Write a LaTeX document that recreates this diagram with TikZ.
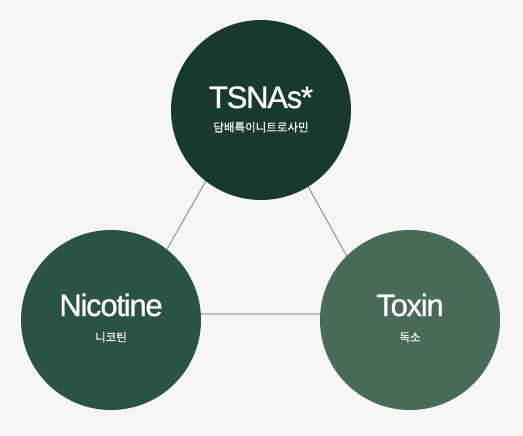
\documentclass[tikz,border=0pt]{standalone}
\usepackage{fontspec}
\setmainfont{Liberation Sans}
\newfontfamily\titlefont{Liberation Sans}[LetterSpace=-4,FakeBold=0.8]
\newfontfamily\krfont{Noto Sans CJK KR}[FakeBold=0.6]
\usepackage{xcolor}
\usepackage{tikz}
\usetikzlibrary{positioning}
\definecolor{pagebg}{HTML}{F6F6F6}
\definecolor{tsnagreen}{HTML}{183B29}
\definecolor{nicogreen}{HTML}{2B5440}
\definecolor{toxgreen}{HTML}{4A6A58}

\begin{document}
\begin{tikzpicture}[x=1pt,y=-1pt,
  bubble/.style={circle,minimum size=180pt,inner sep=0pt},
  title/.style={anchor=base,text=white,font=\titlefont\fontsize{31}{31}\selectfont},
  subtitle/.style={anchor=base,text=white!94!gray,font=\krfont\fontsize{11.5}{11.5}\selectfont},
  edge/.style={draw=black!55,line width=0.7pt},
  baseedge/.style={draw=black!25,line width=1.6pt}]
\fill[pagebg] (0,0) rectangle (523,436);
% triangle behind the circles
\coordinate (apex) at (256,93);
\coordinate (lbase) at (130,314);
\coordinate (rbase) at (379,314);
\draw[edge] (lbase) -- (apex) -- (rbase);
\draw[baseedge] (lbase) -- (rbase);
% circles
\node[bubble,fill=tsnagreen] (tsna) at (261,110) {};
\node[bubble,fill=nicogreen] (nico) at (111,320) {};
\node[bubble,fill=toxgreen] (tox) at (410,320) {};
% labels
\node[title] (tsnatitle) at ([yshift=2pt]tsna.center) {TSNAs*};
\node[subtitle] (tsnasub) at ([yshift=-21.5pt]tsna.center) {담배특이니트로사민};
\node[title] (nicotitle) at ([yshift=4pt]nico.center) {Nicotine};
\node[subtitle] (nicosub) at ([yshift=-21.5pt]nico.center) {니코틴};
\node[title] (toxtitle) at ([yshift=4pt]tox.center) {Toxin};
\node[subtitle] (toxsub) at ([yshift=-21.5pt]tox.center) {독소};
\end{tikzpicture}
\end{document}
